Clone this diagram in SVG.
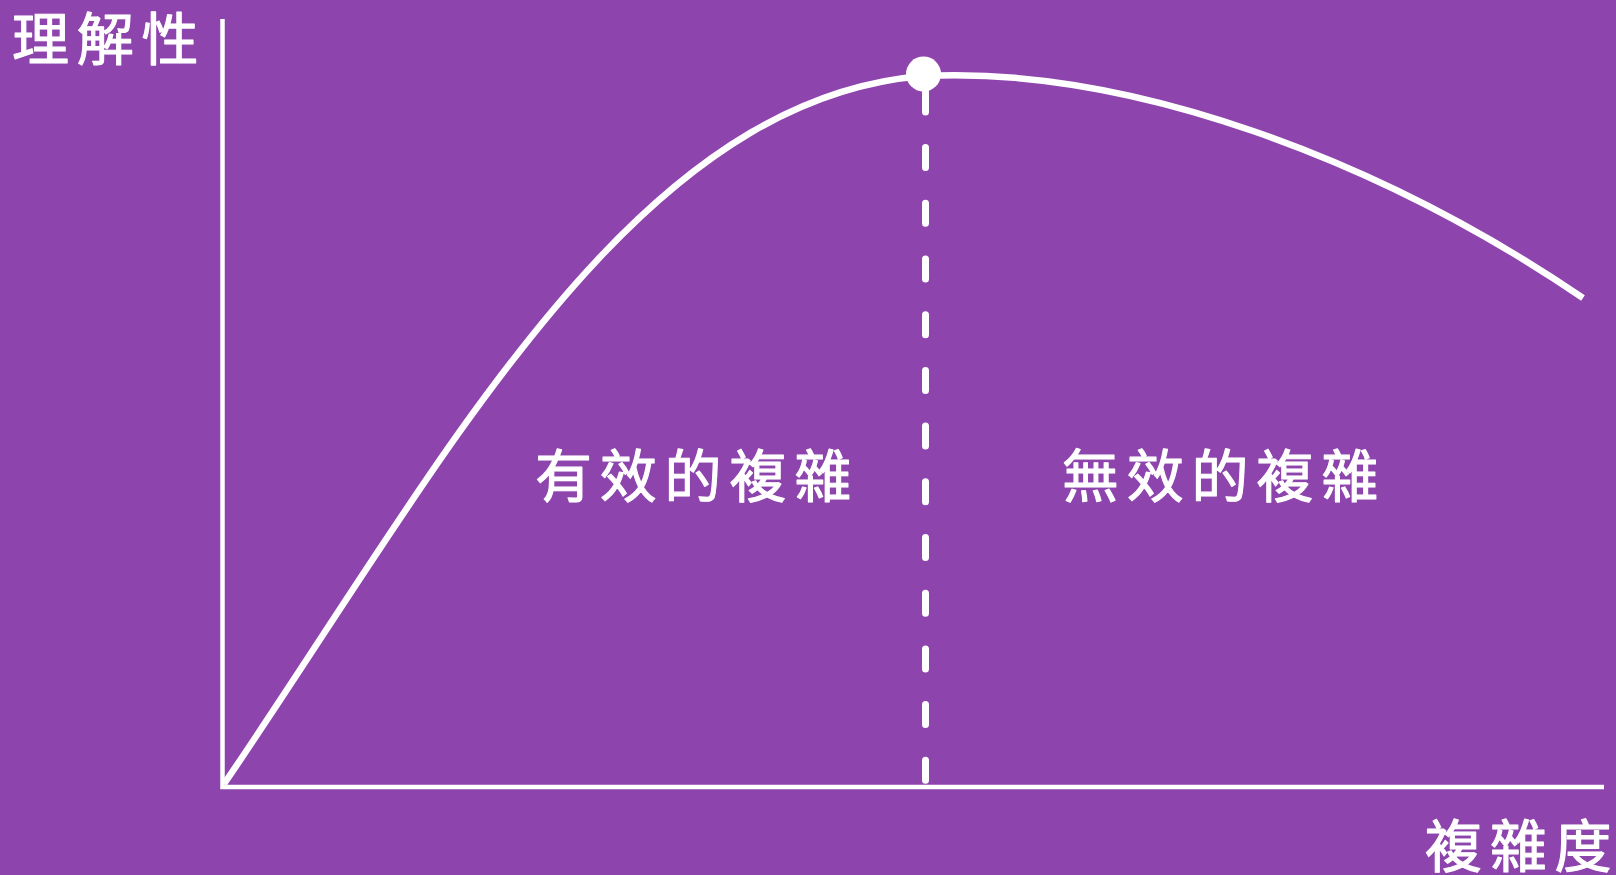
<svg xmlns="http://www.w3.org/2000/svg" width="1616" height="875" viewBox="0 0 1616 875">
<style>
.bg{fill:#8E44AD}
.axis{stroke:#FFFFFF;stroke-width:4.5;fill:none;stroke-linecap:butt}
.curve{stroke:#FFFFFF;stroke-width:6.5;fill:none}
.dash{stroke:#FFFFFF;stroke-width:7;fill:none;stroke-linecap:round;stroke-dasharray:20 35.7}
.lbl{fill:#FFFFFF;stroke:#FFFFFF;stroke-width:1.1px;stroke-linejoin:round;font-family:"Noto Sans CJK TC","Noto Sans CJK SC",sans-serif;font-size:57px;font-weight:400;letter-spacing:7.8px}
</style>
<rect class="bg" x="0" y="0" width="1616" height="875"/>
<g id="axes">
<path class="axis" d="M222.5,19 L222.5,787 L1604,787"/>
</g>
<g id="connectors">
<path class="dash" d="M925.5,780.3 L925.5,90"/>
<path class="curve" d="M224,784 C444,462 630,100 923,76 C1130,66 1380,160 1583,298"/>
</g>
<g id="peak">
<circle cx="923.5" cy="74" r="17.5" fill="#FFFFFF"/>
</g>
<g id="label-y">
<text class="lbl" x="12" y="60">理解性</text>
</g>
<g id="label-x">
<text class="lbl" x="1425" y="867">複雜度</text>
</g>
<g id="label-effective">
<text class="lbl" x="535" y="497">有效的複雜</text>
</g>
<g id="label-ineffective">
<text class="lbl" x="1062" y="497">無效的複雜</text>
</g>
</svg>
